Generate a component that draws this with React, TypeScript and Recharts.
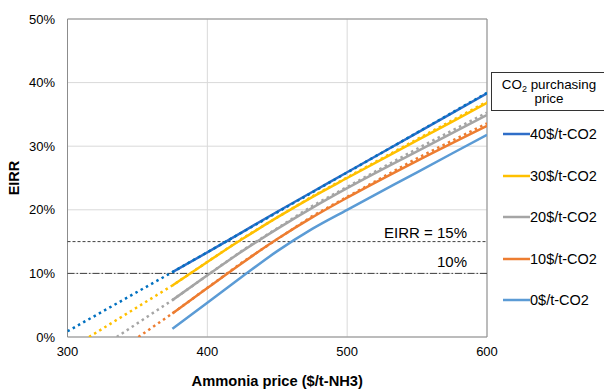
import React from 'react';
import { LineChart, Line, XAxis, YAxis, CartesianGrid, ReferenceLine, ReferenceArea } from 'recharts';

const priceTicks = [300, 400, 500, 600];
const eirrTicks = [0, 10, 20, 30, 40, 50];

const solidPrices = [375, 400, 425, 450, 475, 500, 550, 600];
const eirr40 = [10.2, 13.3, 16.5, 19.7, 22.8, 25.9, 32.1, 38.3];
const eirr30 = [8.1, 11.8, 15.4, 18.8, 22.0, 25.0, 30.9, 36.8];
const eirr20 = [5.8, 9.7, 13.5, 17.0, 20.3, 23.4, 29.2, 34.9];
const eirr10 = [3.7, 7.7, 11.65, 15.4, 18.8, 21.9, 27.7, 33.2];
const eirr0 = [1.3, 5.4, 9.5, 13.5, 17.0, 20.0, 25.9, 31.8];

const trendPrices40 = [300, 375, 600];
const trend40 = [0.9, 10.2, 38.4];
const trendPrices30 = [315.4, 375, 425, 475, 550, 600];
const trend30 = [0, 8.1, 15.5, 22.1, 31.1, 37.0];
const trendPrices20 = [335.2, 375, 425, 475, 550, 600];
const trend20 = [0, 5.8, 13.6, 20.6, 29.6, 35.3];
const trendPrices10 = [350.7, 375, 425, 475, 550, 600];
const trend10 = [0, 3.7, 11.75, 19.0, 28.1, 33.6];

const seriesNames = ['40$/t-CO2', '30$/t-CO2', '20$/t-CO2', '10$/t-CO2', '0$/t-CO2'];
const seriesColors = ['#2F6EC8', '#FFC000', '#A5A5A5', '#ED7D31', '#5B9BD5'];
const trendColors = ['#0070C0', '#FFC000', '#A5A5A5', '#ED7D31'];

const toPoints = (xs: number[], ys: number[]) => xs.map((x, i) => ({ x, y: ys[i] }));

const solidSeries = [eirr40, eirr30, eirr20, eirr10, eirr0].map((ys) => toPoints(solidPrices, ys));
const trendSeries = [
  toPoints(trendPrices40, trend40),
  toPoints(trendPrices30, trend30),
  toPoints(trendPrices20, trend20),
  toPoints(trendPrices10, trend10),
];

const FONT = '"Liberation Sans", Arial, sans-serif';

const refLabel = (text: string, dy: number) => (props: any) => {
  const vb = props.viewBox || {};
  return (
    <text
      x={vb.x + vb.width - 20}
      y={vb.y + dy}
      textAnchor="end"
      dominantBaseline="central"
      fontSize={15}
      fontFamily={FONT}
      fill="#000"
    >
      {text}
    </text>
  );
};

export default function App() {
  return (
    <div style={{ position: 'absolute', left: 0, top: 0, width: 604, height: 390, background: '#fff', fontFamily: FONT }}>
      <LineChart width={604} height={390} margin={{ top: 19, right: 117, bottom: 23, left: 7.5 }}>
        <CartesianGrid stroke="#D9D9D9" strokeWidth={1} />
        <XAxis
          type="number"
          dataKey="x"
          domain={[300, 600]}
          ticks={priceTicks}
          allowDataOverflow
          height={30}
          tickLine={false}
          tickSize={0}
          tickMargin={10}
          axisLine={false}
          tick={{ fill: '#000', fontSize: 13, fontFamily: FONT }}
          label={{
            content: (p: any) => {
              const vb = p.viewBox || {};
              return (
                <text
                  x={vb.x + vb.width / 2}
                  y={381}
                  textAnchor="middle"
                  dominantBaseline="central"
                  fontSize={14.7}
                  fontWeight="bold"
                  fontFamily={FONT}
                  fill="#000"
                >
                  Ammonia price ($/t-NH3)
                </text>
              );
            },
          }}
        />
        <YAxis
          type="number"
          domain={[0, 50]}
          ticks={eirrTicks}
          allowDataOverflow
          width={60}
          tickLine={false}
          tickSize={0}
          tickMargin={12.5}
          axisLine={false}
          tickFormatter={(v: number) => `${v}%`}
          tick={{ fill: '#000', fontSize: 13, fontFamily: FONT }}
          label={{
            content: (p: any) => {
              const vb = p.viewBox || {};
              const cy = vb.y + vb.height / 2;
              return (
                <text
                  x={14}
                  y={cy}
                  transform={`rotate(-90 14 ${cy})`}
                  textAnchor="middle"
                  dominantBaseline="central"
                  fontSize={14.5}
                  fontWeight="bold"
                  fontFamily={FONT}
                  fill="#000"
                >
                  EIRR
                </text>
              );
            },
          }}
        />
        <ReferenceArea x1={300} x2={600} y1={0} y2={50} fill="none" stroke="#8C8C8C" strokeWidth={1} ifOverflow="visible" />
        <ReferenceLine y={15} stroke="#404040" strokeWidth={1} strokeDasharray="3 2" label={refLabel('EIRR = 15%', -9)} />
        <ReferenceLine y={10} stroke="#404040" strokeWidth={1} strokeDasharray="7 2 1.5 2" label={refLabel('10%', -11.5)} />
        {solidSeries.map((d, i) => (
          <Line
            key={'s' + i}
            data={d}
            dataKey="y"
            type="monotone"
            stroke={seriesColors[i]}
            strokeWidth={2.5}
            dot={false}
            activeDot={false}
            isAnimationActive={false}
          />
        ))}
        {trendSeries.map((d, i) => (
          <Line
            key={'t' + i}
            data={d}
            dataKey="y"
            type="linear"
            stroke={trendColors[i]}
            strokeWidth={2.5}
            strokeDasharray="2.5 3.5"
            dot={false}
            activeDot={false}
            isAnimationActive={false}
          />
        ))}
      </LineChart>
      <div
        style={{
          position: 'absolute',
          left: 491,
          top: 72,
          width: 116,
          height: 39,
          boxSizing: 'border-box',
          border: '1px solid #333',
          background: '#fff',
          textAlign: 'center',
          fontSize: 13.4,
          lineHeight: '14px',
          paddingTop: 5,
          color: '#000',
        }}
      >
        <div>
          CO<sub style={{ fontSize: 9, lineHeight: 0, verticalAlign: 'baseline', position: 'relative', top: 3 }}>2</sub> purchasing
        </div>
        <div>price</div>
      </div>
      {seriesNames.map((name, i) => (
        <div
          key={name}
          style={{
            position: 'absolute',
            left: 503,
            top: 134 + i * 41.6 - 9,
            height: 18,
            display: 'flex',
            alignItems: 'center',
            fontSize: 14.5,
            color: '#000',
            whiteSpace: 'nowrap',
          }}
        >
          <svg width={27} height={18} style={{ display: 'block' }}>
            <line x1={0} y1={9} x2={27} y2={9} stroke={seriesColors[i]} strokeWidth={2.5} />
          </svg>
          <span>{name}</span>
        </div>
      ))}
    </div>
  );
}
